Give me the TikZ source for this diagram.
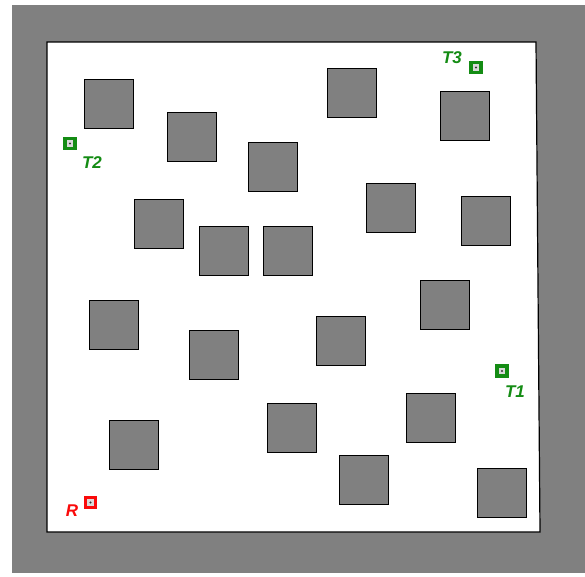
\documentclass[tikz,border=0pt]{standalone}
\usepackage{fontspec}
\setmainfont{Liberation Sans}
\definecolor{wallgray}{RGB}{128,128,128}
\definecolor{tgreen}{RGB}{20,140,20}
\definecolor{rred}{RGB}{250,10,10}
\begin{document}
\begin{tikzpicture}[x=1pt,y=-1pt,
  obst/.style={draw=black,line width=1.2pt,fill=wallgray,minimum size=49pt,inner sep=0pt,anchor=north west},
  marker/.style={fill=#1,minimum size=13.5pt,inner sep=0pt,
    path picture={\fill[white!85!black] ([shift={(3.3pt,-3.3pt)}]path picture bounding box.north west) rectangle ([shift={(-3.3pt,3.3pt)}]path picture bounding box.south east);
      \fill[black!80] (path picture bounding box.center) circle (1.1pt);}},
  lbl/.style={text=#1,font=\fontsize{17}{17}\selectfont\bfseries\itshape,inner sep=0pt}
]
\useasboundingbox (0,0) rectangle (585,576);
\fill[wallgray] (12,5) rectangle (585,573);
\filldraw[fill=white,draw=black,line width=1.2pt] (47,42) -- (536,42) -- (540,532) -- (47,532) -- cycle;
% obstacles
\node[obst] (o1) at (84,79) {};
\node[obst] (o2) at (167,112) {};
\node[obst] (o3) at (327,68) {};
\node[obst] (o4) at (440,91) {};
\node[obst] (o5) at (248,142) {};
\node[obst] (o6) at (134,199) {};
\node[obst] (o7) at (199,226) {};
\node[obst] (o8) at (263,226) {};
\node[obst] (o9) at (366,183) {};
\node[obst] (o10) at (461,196) {};
\node[obst] (o11) at (89,300) {};
\node[obst] (o12) at (189,330) {};
\node[obst] (o13) at (316,316) {};
\node[obst] (o14) at (420,280) {};
\node[obst] (o15) at (109,420) {};
\node[obst] (o16) at (267,403) {};
\node[obst] (o17) at (406,393) {};
\node[obst] (o18) at (339,455) {};
\node[obst] (o19) at (477,468) {};
% targets
\node[marker=tgreen] (t2) at (70,143.5) {};
\node[lbl=tgreen] (t2l) at (92,163) {T2};
\node[marker=tgreen] (t3) at (476,67.5) {};
\node[lbl=tgreen] (t3l) at (452,58) {T3};
\node[marker=tgreen] (t1) at (502,371) {};
\node[lbl=tgreen] (t1l) at (515,392) {T1};
\node[marker=rred] (r) at (90.5,502.5) {};
\node[lbl=rred] (rl) at (72,511) {R};
\end{tikzpicture}
\end{document}
